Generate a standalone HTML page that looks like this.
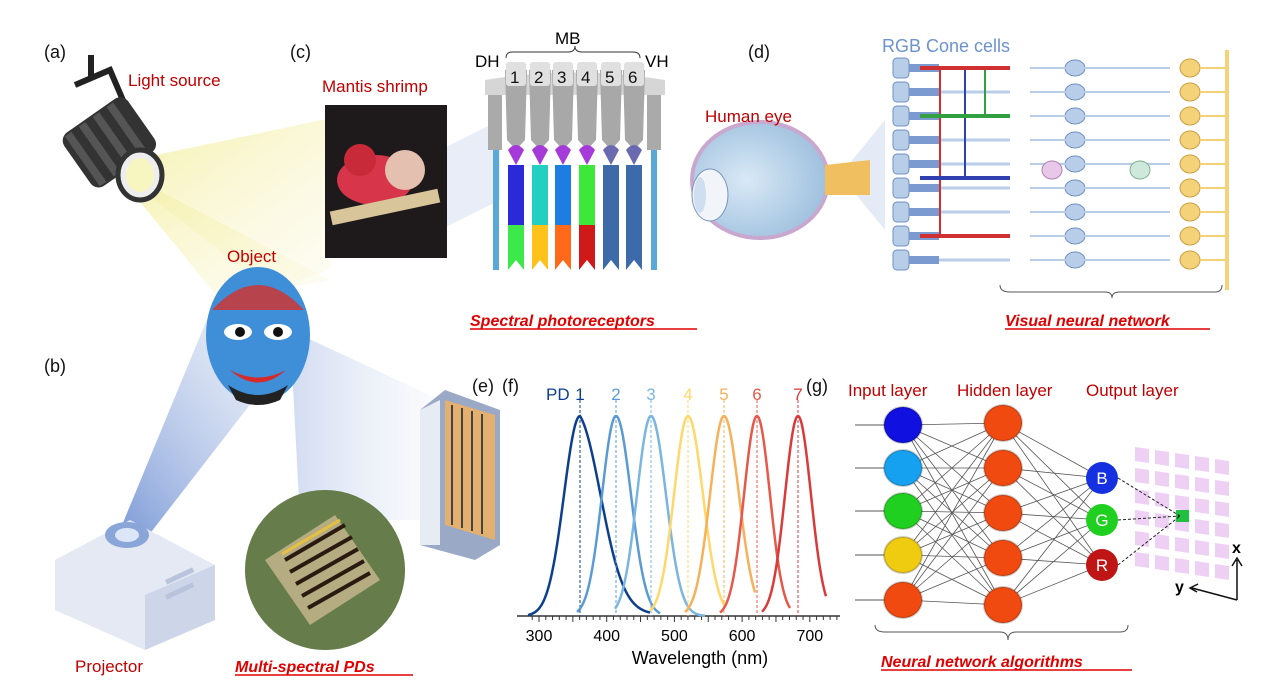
<!DOCTYPE html>
<html><head><meta charset="utf-8"><style>
body{margin:0;background:#fff;overflow:hidden}
svg{display:block;font-family:"Liberation Sans",Arial,sans-serif}
</style></head><body>
<svg id="s" width="1269" height="696" viewBox="0 0 1269 696" xmlns="http://www.w3.org/2000/svg">
<defs>
<linearGradient id="yl" x1="0" y1="0" x2="1" y2="1"><stop offset="0" stop-color="#f4efa0" stop-opacity=".9"/><stop offset="1" stop-color="#fbf8e0" stop-opacity=".3"/></linearGradient>
<linearGradient id="bl" x1="0" y1="1" x2="1" y2="0"><stop offset="0" stop-color="#6d8fd3" stop-opacity=".9"/><stop offset="1" stop-color="#dfe6f5" stop-opacity=".3"/></linearGradient>
<linearGradient id="bl2" x1="0" y1="0" x2="1" y2="0"><stop offset="0" stop-color="#c6d3ee" stop-opacity=".8"/><stop offset="1" stop-color="#eef2fa" stop-opacity=".3"/></linearGradient>
<radialGradient id="eye" cx=".4" cy=".5" r=".6"><stop offset="0" stop-color="#d9e9f6"/><stop offset="1" stop-color="#9ec0de"/></radialGradient>
</defs>
<polygon points="110,165 345,115 330,270 270,290" fill="url(#yl)"/>
<polygon points="110,165 220,300 330,280" fill="url(#yl)"/>
<polygon points="120,530 215,300 300,340 145,540" fill="url(#bl)"/>
<polygon points="290,330 440,400 440,520 300,520" fill="url(#bl2)"/>
<polygon points="440,150 500,120 500,200 440,230" fill="#dfe6f4" opacity=".7"/>
<polygon points="840,175 885,120 885,230" fill="#dfe6f4" opacity=".8"/>
<g>
<rect x="88" y="55" width="6" height="25" fill="#222"/>
<path d="M75,85 L110,70 L125,105" stroke="#222" stroke-width="6" fill="none"/>
<g transform="rotate(-35 110 145)"><rect x="72" y="110" width="78" height="65" rx="10" fill="#333"/>
<rect x="78" y="112" width="8" height="61" fill="#555"/><rect x="95" y="112" width="8" height="61" fill="#555"/><rect x="112" y="112" width="8" height="61" fill="#555"/><rect x="129" y="112" width="8" height="61" fill="#555"/></g>
<ellipse cx="140" cy="175" rx="22" ry="25" fill="#eee" stroke="#333" stroke-width="5"/>
<ellipse cx="140" cy="175" rx="14" ry="17" fill="#f8f6c0"/>
</g>
<ellipse cx="258" cy="335" rx="52" ry="68" fill="#3e8fd8"/>
<path d="M212,310 Q258,260 304,310" fill="#d6302a" opacity=".8"/>
<ellipse cx="238" cy="332" rx="14" ry="8" fill="#fff"/><ellipse cx="278" cy="332" rx="14" ry="8" fill="#fff"/>
<circle cx="240" cy="332" r="5" fill="#111"/><circle cx="278" cy="332" r="5" fill="#111"/>
<path d="M230,370 Q258,395 286,370 Q258,385 230,370" fill="#d62a2a"/>
<path d="M228,385 Q258,405 288,385 L280,400 Q258,410 236,400Z" fill="#222"/>
<polygon points="55,560 130,520 215,565 215,620 145,650 55,610" fill="#e4e9f4"/>
<polygon points="145,595 215,565 215,620 145,650" fill="#cdd5e8"/>
<ellipse cx="127" cy="535" rx="22" ry="13" fill="#8aa6d8"/><ellipse cx="127" cy="535" rx="12" ry="7" fill="#dde6f6"/>
<rect x="165" y="580" width="30" height="5" transform="rotate(-25 165 580)" fill="#b9c3db"/>
<rect x="165" y="595" width="30" height="5" transform="rotate(-25 165 595)" fill="#b9c3db"/>
<circle cx="325" cy="570" r="80" fill="#4c6a3c"/>
<circle cx="325" cy="570" r="80" fill="#7f8f5a" opacity=".5"/>
<polygon points="265,560 335,515 380,580 310,625" fill="#c9b890" opacity=".8"/>
<g stroke="#2a1a10" stroke-width="4"><line x1="285" y1="560" x2="345" y2="525"/><line x1="290" y1="572" x2="352" y2="537"/><line x1="296" y1="584" x2="358" y2="549"/><line x1="302" y1="596" x2="364" y2="561"/><line x1="308" y1="608" x2="370" y2="573"/></g>
<g stroke="#e8c040" stroke-width="3"><line x1="282" y1="554" x2="340" y2="520"/></g>
<polygon points="420,410 445,390 500,410 500,545 475,560 420,545" fill="#9aa9c6"/>
<polygon points="445,400 495,415 495,540 445,525" fill="#e3b070"/>
<g stroke="#444" stroke-width="2"><line x1="452" y1="405" x2="452" y2="525"/><line x1="462" y1="408" x2="462" y2="528"/><line x1="472" y1="411" x2="472" y2="531"/><line x1="482" y1="414" x2="482" y2="534"/></g>
<polygon points="420,410 440,400 440,545 420,545" fill="#e6ebf4"/>
<rect x="325" y="105" width="122" height="153" fill="#1e1a1c"/>
<ellipse cx="375" cy="180" rx="38" ry="25" fill="#d7354a"/>
<circle cx="405" cy="170" r="20" fill="#e4c0b0"/><circle cx="360" cy="160" r="16" fill="#c82a3a"/>
<rect x="330" y="200" width="110" height="14" fill="#d9c59a" transform="rotate(-12 385 207)"/>
<g id="pr"></g>
<path d="M506,58 Q506,52 512,52 L568,52 Q575,52 575,46 Q575,52 582,52 L633,52 Q640,52 640,58" fill="none" stroke="#333" stroke-width="1"/>
<ellipse cx="760" cy="180" rx="68" ry="58" fill="url(#eye)" stroke="#c9a8d0" stroke-width="4"/>
<path d="M825,165 L870,160 L870,195 L825,195Z" fill="#f0c060"/>
<ellipse cx="710" cy="195" rx="18" ry="26" fill="#f1f5fa" stroke="#7a93b8"/>
<ellipse cx="700" cy="195" rx="6" ry="18" fill="#cfdff0"/>
<g id="ret"></g>
<g id="spec"></g>
<g id="nn"></g>
<g font-size="18" fill="#111">
<text x="44" y="58">(a)</text><text x="290" y="58">(c)</text><text x="748" y="58">(d)</text>
<text x="44" y="372">(b)</text><text x="472" y="392">(e)</text><text x="502" y="392">(f)</text><text x="806" y="392">(g)</text>
</g>
<g font-size="17" fill="#c00000">
<text x="128" y="86">Light source</text><text x="322" y="92">Mantis shrimp</text>
<text x="705" y="122">Human eye</text><text x="227" y="262">Object</text>
<text x="75" y="672">Projector</text>
<text x="848" y="396">Input layer</text><text x="957" y="396">Hidden layer</text><text x="1086" y="396">Output layer</text>
</g>
<text x="882" y="52" font-size="18" fill="#6c93cf">RGB Cone cells</text>
<g font-size="16" font-weight="bold" font-style="italic" fill="#e00000">
<text x="470" y="326">Spectral photoreceptors</text>
<text x="1005" y="326">Visual neural network</text>
<text x="235" y="672">Multi-spectral PDs</text>
<text x="881" y="667">Neural network algorithms</text>
</g>
<g stroke="#e00000" stroke-width="1.5"><line x1="470" y1="329" x2="697" y2="329"/><line x1="1005" y1="329" x2="1210" y2="329"/><line x1="235" y1="675" x2="413" y2="675"/><line x1="881" y1="670" x2="1132" y2="670"/></g>
</svg>
<script>
var NS="http://www.w3.org/2000/svg";
function el(p,t,a,tx){var e=document.createElementNS(NS,t);for(var k in a)e.setAttribute(k,a[k]);if(tx)e.textContent=tx;p.appendChild(e);return e;}
var pr=document.getElementById('pr');
var cols=[["#2a2ad8","#3de84a"],["#22cfc0","#ffc21a"],["#1d7de0","#ff6a1a"],["#3ee83a","#d01a1a"],["#3d6aa8","#3d6aa8"],["#3d6aa8","#3d6aa8"]];
el(pr,'path',{d:"M485,80 Q575,65 665,80 L665,95 L485,95Z",fill:"#d6d6d6"});
el(pr,'rect',{x:488,y:95,width:14,height:55,fill:"#aaa"});el(pr,'rect',{x:493,y:150,width:6,height:120,fill:"#5aa8d8"});
el(pr,'rect',{x:647,y:95,width:14,height:55,fill:"#aaa"});el(pr,'rect',{x:651,y:150,width:6,height:120,fill:"#5aa8d8"});
var xs=[516,540,563,587,611,634];
for(var i=0;i<6;i++){var x=xs[i];
el(pr,'path',{d:"M"+(x-11)+",70 L"+(x+11)+",70 L"+(x+9)+",140 L"+x+",150 L"+(x-9)+",140Z",fill:"#a8a8a8"});
el(pr,'path',{d:"M"+(x-8)+",150 Q"+x+",140 "+(x+8)+",150 L"+x+",165Z",fill:i<4?"#a43ad8":"#6a6ab0"});
el(pr,'rect',{x:x-8,y:165,width:16,height:60,fill:cols[i][0]});
el(pr,'path',{d:"M"+(x-8)+",225 L"+(x+8)+",225 L"+(x+8)+",270 L"+x+",260 L"+(x-8)+",270Z",fill:cols[i][1]});
el(pr,'rect',{x:x-10,y:62,width:20,height:24,rx:3,fill:"#e0e0e0"});
el(pr,'text',{x:x-6,y:83,"font-size":17,fill:"#111"},String(i+1));}
el(pr,'text',{x:475,y:67,"font-size":17},"DH");el(pr,'text',{x:555,y:44,"font-size":17},"MB");el(pr,'text',{x:645,y:67,"font-size":17},"VH");
var rt=document.getElementById('ret');
for(var r=0;r<9;r++){var y=68+r*24;
el(rt,'rect',{x:893,y:y-10,width:16,height:20,rx:4,fill:"#b8cde8",stroke:"#6f8fc0"});
el(rt,'rect',{x:909,y:y-4,width:30,height:8,fill:"#7a9ad0"});
el(rt,'line',{x1:939,y1:y,x2:1010,y2:y,stroke:"#b8cde8","stroke-width":3});
el(rt,'ellipse',{cx:1075,cy:y,rx:10,ry:8,fill:"#b8cde8",stroke:"#6f8fc0"});
el(rt,'line',{x1:1030,y1:y,x2:1170,y2:y,stroke:"#b8cde8","stroke-width":2});
el(rt,'ellipse',{cx:1190,cy:y,rx:10,ry:9,fill:"#f4d27a",stroke:"#c9a040"});
el(rt,'line',{x1:1200,y1:y,x2:1225,y2:y,stroke:"#f4d27a","stroke-width":2});}
el(rt,'rect',{x:1225,y:50,width:4,height:240,fill:"#f4d27a"});
[[940,"#d03030",[68,236]],[965,"#3040b0",[68,178]],[985,"#30a040",[68,116]]].forEach(function(c){el(rt,'line',{x1:c[0],y1:c[2][0],x2:c[0],y2:c[2][1],stroke:c[1],"stroke-width":2});});
[[68,"#d03030"],[116,"#30a040"],[178,"#3040b0"],[236,"#d03030"]].forEach(function(c){el(rt,'line',{x1:920,y1:c[0],x2:1010,y2:c[0],stroke:c[1],"stroke-width":4});});
el(rt,'ellipse',{cx:1052,cy:170,rx:10,ry:9,fill:"#e8c8e8",stroke:"#b080b0"});
el(rt,'ellipse',{cx:1140,cy:170,rx:10,ry:9,fill:"#cfe8dc",stroke:"#80b090"});
el(rt,'path',{d:"M1000,285 Q1000,292 1010,292 L1105,292 Q1112,292 1112,298 Q1112,292 1120,292 L1215,292 Q1222,292 1222,285",fill:"none",stroke:"#555"});
var sp=document.getElementById('spec');
el(sp,'line',{x1:517,y1:616,x2:840,y2:616,stroke:"#333","stroke-width":1.5});
for(var w=290;w<=740;w+=10){var xx=539+(w-300)*0.677;el(sp,'line',{x1:xx,y1:616,x2:xx,y2:w%50?620:622,stroke:"#333"});}
[300,400,500,600,700].forEach(function(w){el(sp,'text',{x:539+(w-300)*0.677,y:641,"font-size":16,"text-anchor":"middle"},String(w));});
el(sp,'text',{x:700,y:664,"font-size":18,"text-anchor":"middle"},"Wavelength (nm)");
var pk=[[580,"#0d3f8f",16,30,528,650],[616,"#5b9bd5",14,15,577,660],[651,"#7ab6e0",14,15,615,705],[688,"#ffd76a",14,15,650,725],[724,"#f6b15a",14,15,685,755],[757,"#e8584a",13,13,720,790],[798,"#d93a3a",13,13,762,826]];
pk.forEach(function(p,i){var d="";for(var x=p[4];x<=p[5];x+=1){var s=x<p[0]?p[2]:p[3];var g=Math.exp(-Math.pow((x-p[0])/s,2)/2);if(i==0&&x>p[0])g=Math.exp(-Math.pow((x-p[0])/22,2)/2)*0.8+0.2*Math.exp(-(x-p[0])/25);var y=616-200*g;d+=(d?"L":"M")+x+","+y.toFixed(1);}
el(sp,'path',{d:d,fill:"none",stroke:p[1],"stroke-width":2.5});
el(sp,'line',{x1:p[0],y1:400,x2:p[0],y2:616,stroke:p[1],"stroke-width":1,"stroke-dasharray":"3,2"});
el(sp,'text',{x:p[0],y:400,"font-size":17,fill:p[1],"text-anchor":"middle"},String(i+1));});
el(sp,'text',{x:546,y:400,"font-size":17,fill:"#0d3f8f"},"PD");
var nn=document.getElementById('nn');
var ip=[[903,425,"#1010e0"],[903,468,"#15a0f0"],[903,511,"#20d020"],[903,555,"#f0cc10"],[903,600,"#f04a10"]];
var hd=[423,468,513,558,605].map(function(y){return [1003,y,"#f04a10"];});
var op=[[1102,478,"#1530e0","B"],[1102,520,"#20d020","G"],[1102,565,"#c01515","R"]];
ip.forEach(function(a){el(nn,'line',{x1:855,y1:a[1],x2:a[0],y2:a[1],stroke:"#555"});hd.forEach(function(b){el(nn,'line',{x1:a[0],y1:a[1],x2:b[0],y2:b[1],stroke:"#555","stroke-width":0.8});});});
hd.forEach(function(a){op.forEach(function(b){el(nn,'line',{x1:a[0],y1:a[1],x2:b[0],y2:b[1],stroke:"#555","stroke-width":0.8});});});
for(var c=0;c<5;c++)for(var r=0;r<6;r++){var x0=1135+c*20,y0=447+r*21+c*3;el(nn,'polygon',{points:x0+","+y0+" "+(x0+14)+","+(y0+2)+" "+(x0+14)+","+(y0+16)+" "+x0+","+(y0+14),fill:"#efd0f5"});}
el(nn,'rect',{x:1176,y:510,width:13,height:12,fill:"#20c040"});
op.forEach(function(o){el(nn,'line',{x1:o[0]+16,y1:o[1],x2:1180,y2:516,stroke:"#222","stroke-dasharray":"3,2"});});
ip.concat(hd).forEach(function(a){el(nn,'ellipse',{cx:a[0],cy:a[1],rx:19,ry:18,fill:a[2],stroke:"#00000033","stroke-width":2});});
op.forEach(function(o){el(nn,'ellipse',{cx:o[0],cy:o[1],rx:16,ry:16,fill:o[2]});el(nn,'text',{x:o[0],y:o[1]+6,"font-size":17,fill:"#fff","text-anchor":"middle"},o[3]);});
el(nn,'path',{d:"M1237,600 L1237,560 M1232,566 L1237,558 L1242,566 M1237,600 L1192,588 M1198,584 L1190,588 L1197,592",stroke:"#111",fill:"none","stroke-width":1.5});
el(nn,'text',{x:1232,y:553,"font-size":16,"font-weight":"bold"},"x");el(nn,'text',{x:1175,y:592,"font-size":16,"font-weight":"bold"},"y");
el(nn,'path',{d:"M875,625 Q875,632 885,632 L1000,632 Q1008,632 1008,640 Q1008,632 1016,632 L1120,632 Q1128,632 1128,625",fill:"none",stroke:"#555"});
</script>
</body></html>
